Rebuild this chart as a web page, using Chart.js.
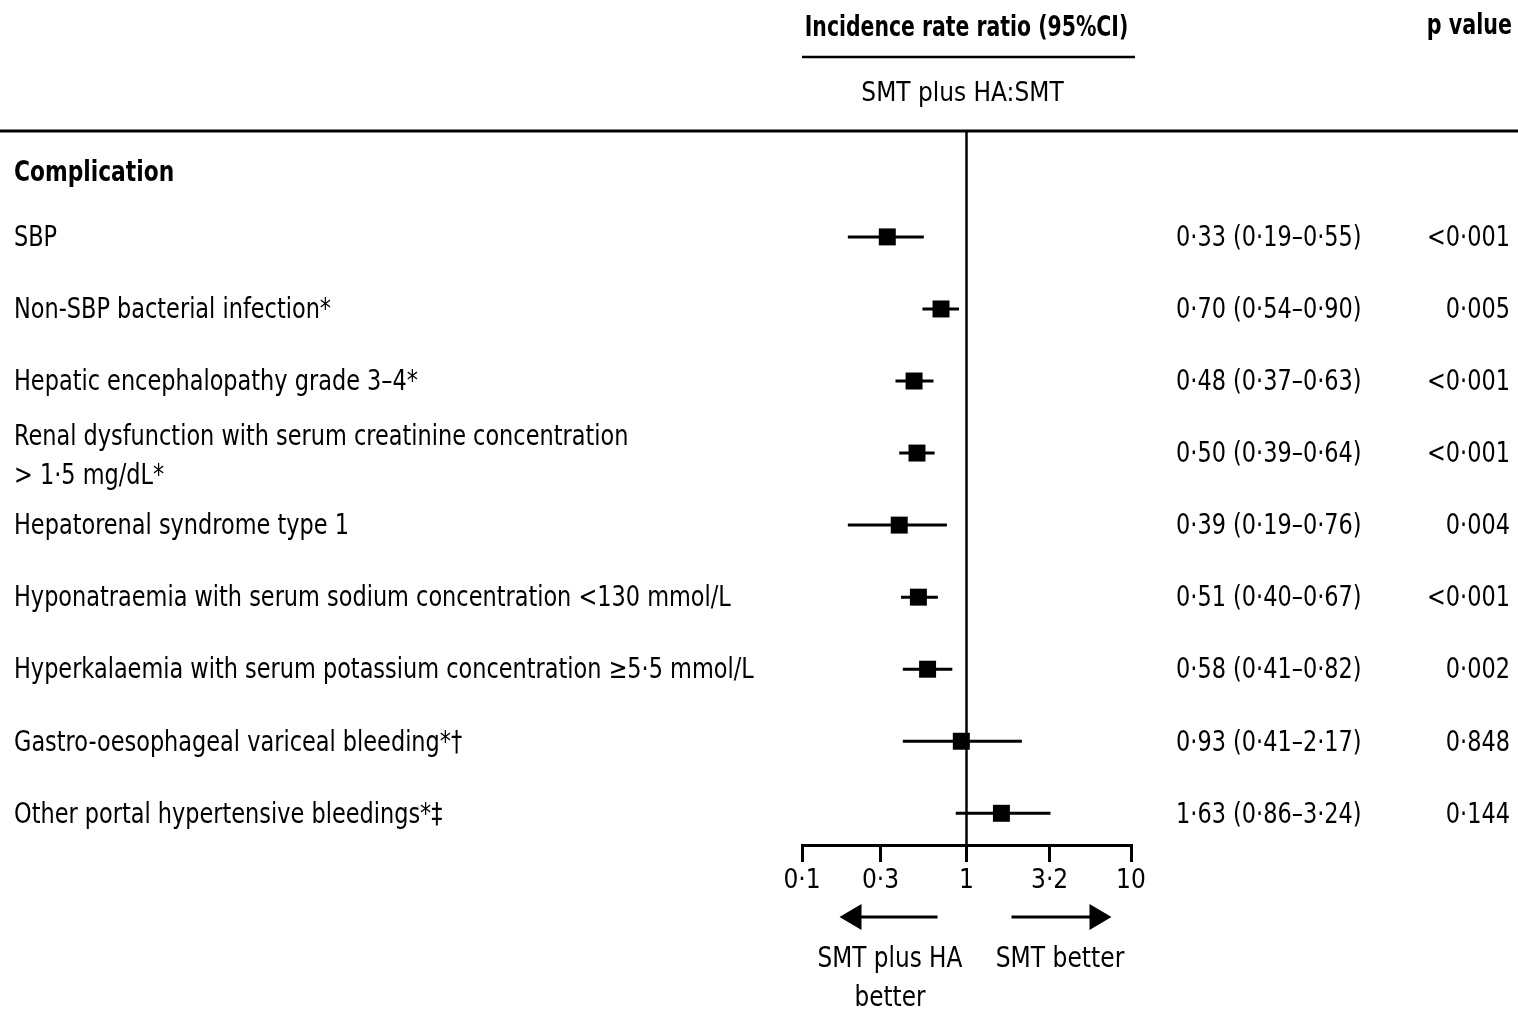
<!DOCTYPE html>
<html>
<head>
<meta charset="utf-8">
<script src="https://cdn.jsdelivr.net/npm/chart.js@4.4.0/dist/chart.umd.min.js"></script>
<style>
  html, body { margin: 0; padding: 0; background: #fff; }
  #chart { display: block; }
</style>
</head>
<body>
<canvas id="chart" width="1518" height="1010"></canvas>
<script>
// rows of the forest plot, top to bottom
const complications = [
  ['SBP'],
  ['Non-SBP bacterial infection*'],
  ['Hepatic encephalopathy grade 3–4*'],
  ['Renal dysfunction with serum creatinine concentration', '> 1·5 mg/dL*'],
  ['Hepatorenal syndrome type 1'],
  ['Hyponatraemia with serum sodium concentration <130 mmol/L'],
  ['Hyperkalaemia with serum potassium concentration ≥5·5 mmol/L'],
  ['Gastro-oesophageal variceal bleeding*†'],
  ['Other portal hypertensive bleedings*‡']
];
const irr    = [0.33, 0.70, 0.48, 0.50, 0.39, 0.51, 0.58, 0.93, 1.63];
const ciLow  = [0.19, 0.54, 0.37, 0.39, 0.19, 0.40, 0.41, 0.41, 0.86];
const ciHigh = [0.55, 0.90, 0.63, 0.64, 0.76, 0.67, 0.82, 2.17, 3.24];
const pValues = ['<0·001', '0·005', '<0·001', '<0·001', '0·004', '<0·001', '0·002', '0·848', '0·144'];
const xTicks = [0.1, 0.3, 1, 3.2, 10];

const FONT = '"DejaVu Sans Condensed", "Liberation Sans Narrow", sans-serif';
const dot = v => String(v).replace('.', '·');
const fmt = v => v.toFixed(2).replace('.', '·');

// the original typeface is narrower than anything installed, so squeeze text horizontally
function text(ctx, str, x, y, align, sx) {
  ctx.save();
  ctx.translate(x, y);
  ctx.scale(sx, 1);
  ctx.textAlign = align;
  ctx.fillText(str, 0, 0);
  ctx.restore();
}

const forestPlugin = {
  id: 'forest',
  beforeDatasetsDraw(chart) {
    const { ctx, chartArea, scales: { x, y } } = chart;
    ctx.save();
    ctx.strokeStyle = '#000';
    // line of no effect
    ctx.lineWidth = 2.5;
    ctx.beginPath();
    ctx.moveTo(x.getPixelForValue(1), chartArea.top);
    ctx.lineTo(x.getPixelForValue(1), chartArea.bottom);
    ctx.stroke();
    // confidence intervals
    ctx.lineWidth = 3;
    irr.forEach((v, i) => {
      const py = y.getPixelForValue(i);
      ctx.beginPath();
      ctx.moveTo(x.getPixelForValue(ciLow[i]), py);
      ctx.lineTo(x.getPixelForValue(ciHigh[i]), py);
      ctx.stroke();
    });
    ctx.restore();
  },
  afterDraw(chart) {
    const { ctx, chartArea, scales: { x, y } } = chart;
    const W = chart.width;
    ctx.save();
    ctx.fillStyle = '#000';
    ctx.strokeStyle = '#000';
    ctx.textBaseline = 'middle';

    // header
    const mid = (chartArea.left + chartArea.right) / 2;
    ctx.font = 'bold 28px ' + FONT;
    text(ctx, 'Incidence rate ratio (95%CI)', mid, 29, 'center', 0.81);
    text(ctx, 'p value', W - 6, 27, 'right', 0.82);
    ctx.lineWidth = 2.5;
    ctx.beginPath();
    ctx.moveTo(chartArea.left, 57);
    ctx.lineTo(chartArea.right + 4, 57);
    ctx.stroke();
    ctx.font = '27px ' + FONT;
    text(ctx, 'SMT plus HA:SMT', mid - 4, 94, 'center', 0.96);
    ctx.lineWidth = 3;
    ctx.beginPath();
    ctx.moveTo(0, chartArea.top);
    ctx.lineTo(W, chartArea.top);
    ctx.stroke();

    ctx.font = 'bold 28px ' + FONT;
    text(ctx, 'Complication', 14, 174, 'left', 0.865);

    // rows
    ctx.font = '28px ' + FONT;
    complications.forEach((lines, i) => {
      const py = y.getPixelForValue(i) + 2;
      if (lines.length === 1) {
        text(ctx, lines[0], 14, py, 'left', 0.89);
      } else {
        text(ctx, lines[0], 14, py - 17, 'left', 0.89);
        text(ctx, lines[1], 14, py + 22, 'left', 0.89);
      }
      text(ctx, `${fmt(irr[i])} (${fmt(ciLow[i])}–${fmt(ciHigh[i])})`, 1176, py, 'left', 0.89);
      text(ctx, pValues[i], W - 8, py, 'right', 0.89);
    });

    // direction arrows
    const x1 = x.getPixelForValue(1);
    const ay = 917;
    ctx.lineWidth = 3;
    [[x1 - 29, x1 - 127], [x1 + 45, x1 + 145]].forEach(([from, to]) => {
      const dir = Math.sign(to - from);
      ctx.beginPath();
      ctx.moveTo(from, ay);
      ctx.lineTo(to - dir * 18, ay);
      ctx.stroke();
      ctx.beginPath();
      ctx.moveTo(to, ay);
      ctx.lineTo(to - dir * 22, ay - 13);
      ctx.lineTo(to - dir * 22, ay + 13);
      ctx.closePath();
      ctx.fill();
    });
    ctx.font = '28px ' + FONT;
    text(ctx, 'SMT plus HA', 890, 960, 'center', 0.92);
    text(ctx, 'better', 890, 999, 'center', 0.92);
    text(ctx, 'SMT better', 1060, 960, 'center', 0.93);
    ctx.restore();
  }
};

new Chart(document.getElementById('chart'), {
  type: 'scatter',
  data: {
    datasets: [{
      data: irr.map((v, i) => ({ x: v, y: i })),
      pointStyle: 'rect',
      pointRadius: 12,
      pointHoverRadius: 12,
      backgroundColor: '#000',
      borderColor: '#000',
      borderWidth: 0
    }]
  },
  options: {
    responsive: false,
    animation: false,
    layout: { padding: { left: 802, right: 387, top: 131, bottom: 105 } },
    plugins: { legend: { display: false }, tooltip: { enabled: false } },
    scales: {
      x: {
        type: 'logarithmic',
        min: 0.1,
        max: 10,
        afterBuildTicks: s => { s.ticks = xTicks.map(v => ({ value: v })); },
        afterFit: s => { s.height = 60; },
        border: { display: true, color: '#000', width: 3 },
        grid: { drawOnChartArea: false, drawTicks: true, tickLength: 17, color: '#000', lineWidth: 3 },
        ticks: {
          color: '#000',
          font: { family: FONT, size: 26 },
          padding: 4,
          maxRotation: 0,
          autoSkip: false,
          callback: v => dot(v)
        }
      },
      y: { display: false, min: -1.47, max: 8.44, reverse: true }
    }
  },
  plugins: [forestPlugin]
});
</script>
</body>
</html>
